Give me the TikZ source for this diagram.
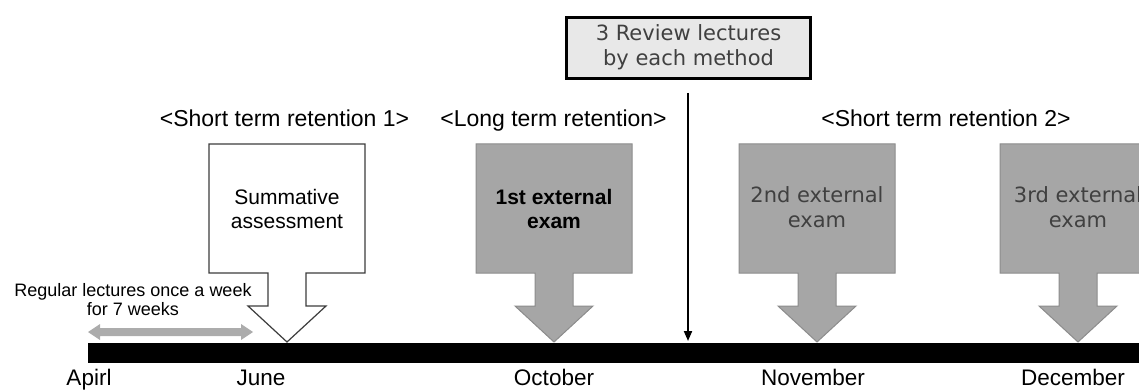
\documentclass[tikz,border=0pt]{standalone}
\usepackage{fontspec}
\setmainfont{Liberation Sans}
\newfontfamily\widefont{DejaVu Sans}
\usetikzlibrary{arrows.meta}
\definecolor{exfill}{RGB}{166,166,166}
\definecolor{exline}{RGB}{140,140,140}
\definecolor{revfill}{RGB}{232,232,232}
\definecolor{txtgray}{RGB}{64,64,64}
\definecolor{dblgray}{RGB}{172,172,172}
\definecolor{sumline}{RGB}{60,60,60}
\begin{document}
\begin{tikzpicture}[x=1pt,y=-1pt,
  callout/.pic={\path[pic actions] (-78,0) -- (78,0) -- (78,129) -- (19,129) -- (19,162) -- (39,162) -- (0,198) -- (-39,162) -- (-19,162) -- (-19,129) -- (-78,129) -- cycle;},
  greycall/.style={draw=exline, fill=exfill, line width=1pt},
  whitecall/.style={draw=sumline, fill=white, line width=1.2pt},
  header/.style={anchor=base, inner sep=0, font=\fontsize{23}{26}\selectfont},
  month/.style={anchor=base, inner sep=0, font=\fontsize{22.5}{26}\selectfont},
  boxtxt/.style={anchor=base, inner sep=0, align=center, font=\fontsize{21}{23.5}\selectfont},
  widetxt/.style={anchor=base, inner sep=0, align=center, text=txtgray, font=\widefont\fontsize{21}{25}\selectfont},
  smalltxt/.style={anchor=base, inner sep=0, align=center, font=\fontsize{18}{19}\selectfont}]
\useasboundingbox (0,0) rectangle (1139,390);

% timeline bar
\node[fill=black, minimum width=1051pt, minimum height=20pt, inner sep=0, anchor=north west] (bar) at (88,343) {};

% callouts
\pic[whitecall] (sum) at (287,144) {callout};
\pic[greycall] (ex1) at (554,144) {callout};
\pic[greycall] (ex2) at (817,144) {callout};
\pic[greycall] (ex3) at (1078,144) {callout};

\node[boxtxt] (sumt) at (287,228) {Summative\\assessment};
\node[boxtxt, font=\bfseries\fontsize{21}{24}\selectfont] (ex1t) at (554,228) {1st external\\exam};
\node[widetxt] (ex2t) at (817,227) {2nd external\\exam};
\node[widetxt] (ex3t) at (1078,227) {3rd external\\exam};

% regular lectures double arrow
\fill[dblgray] (88,332) -- (100,324) -- (100,328) -- (241,328) -- (241,324) -- (253,332) -- (241,340) -- (241,336) -- (100,336) -- (100,340) -- cycle;
\node[smalltxt] (reg) at (133,315) {Regular lectures once a week\\for 7 weeks};

% headers
\node[header] (h1) at (284.5,127) {<Short term retention 1>};
\node[header] (h2) at (553.5,127) {<Long term retention>};
\node[header] (h3) at (946,127) {<Short term retention 2>};

% review box
\node[draw=black, line width=3pt, fill=revfill, minimum width=244pt, minimum height=61pt, inner sep=0] (rev) at (688.5,48) {};
\node[widetxt] (revt) at (688.5,66) {3 Review lectures\\by each method};
\coordinate (vtop) at (688,93);
\coordinate (vbot) at (688,341);
\draw[line width=2pt, -{Triangle[length=10pt,width=8pt]}] (vtop) -- (vbot);

% months
\node[month] (m1) at (89,385) {Apirl};
\node[month] (m2) at (261,385) {June};
\node[month] (m3) at (554,385) {October};
\node[month] (m4) at (813,385) {November};
\node[month] (m5) at (1073,385) {December};
\end{tikzpicture}
\end{document}
